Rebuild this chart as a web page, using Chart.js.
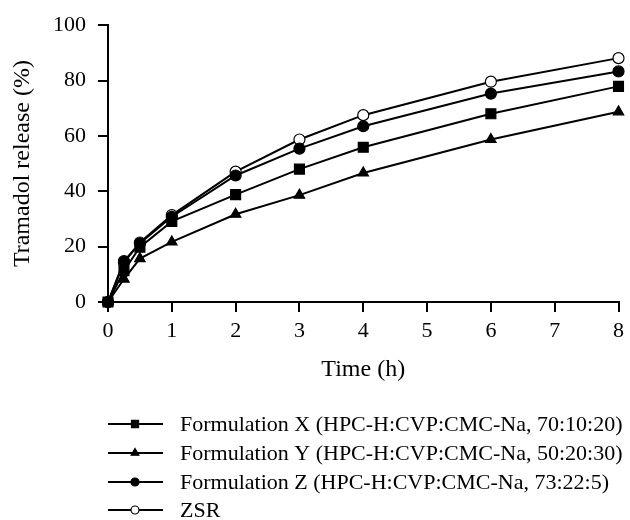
<!DOCTYPE html>
<html>
<head>
<meta charset="utf-8">
<script src="https://cdn.jsdelivr.net/npm/chart.js@4/dist/chart.umd.min.js"></script>
<style>
html,body{margin:0;padding:0;background:#fff;}
#wrap{width:630px;height:520px;position:relative;}
</style>
</head>
<body>
<div id="wrap"><canvas id="c" width="630" height="520"></canvas></div>
<script>
const times = [0, 0.25, 0.5, 1, 2, 3, 4, 6, 8];
const seriesNames = [
  'Formulation X (HPC-H:CVP:CMC-Na, 70:10:20)',
  'Formulation Y (HPC-H:CVP:CMC-Na, 50:20:30)',
  'Formulation Z (HPC-H:CVP:CMC-Na, 73:22:5)',
  'ZSR'
];
const formulationX = [0, 11.3, 19.8, 29.1, 38.8, 48.0, 55.9, 68.0, 77.9];
const formulationY = [0, 8.3, 15.7, 21.7, 31.7, 38.6, 46.6, 58.7, 68.7];
const formulationZ = [0, 14.8, 21.2, 30.8, 45.7, 55.4, 63.5, 75.3, 83.3];
const zsr = [0, 14.2, 21.5, 31.4, 47.1, 58.7, 67.5, 79.6, 88.1];
const xTicks = [0, 1, 2, 3, 4, 5, 6, 7, 8];
const yTicks = [0, 20, 40, 60, 80, 100];

const FONT = "'Liberation Serif', 'Times New Roman', serif";
const styles = [
  {pointStyle: 'rect', radius: 7, bg: '#000', legendRadius: 5},
  {pointStyle: 'triangle', radius: 6, bg: '#000', legendRadius: 4.5},
  {pointStyle: 'circle', radius: 5.5, bg: '#000', legendRadius: 4},
  {pointStyle: 'circle', radius: 5.5, bg: '#fff', legendRadius: 4}
];
const values = [formulationX, formulationY, formulationZ, zsr];

const datasets = values.map((vals, i) => ({
  label: seriesNames[i],
  data: times.map((t, j) => ({x: t, y: vals[j]})),
  borderColor: '#000',
  borderWidth: 2,
  backgroundColor: styles[i].bg,
  pointStyle: styles[i].pointStyle,
  pointRadius: styles[i].radius,
  pointBorderWidth: 1.2,
  pointBorderColor: '#000',
  pointBackgroundColor: styles[i].bg,
  showLine: true,
  tension: 0,
  clip: false
}));

const legendPlugin = {
  id: 'customLegend',
  afterDraw(chart) {
    const ctx = chart.ctx;
    const rowY = [424, 453, 482, 510];
    ctx.save();
    chart.data.datasets.forEach((ds, i) => {
      const y = rowY[i];
      ctx.strokeStyle = '#000';
      ctx.lineWidth = 2;
      ctx.beginPath();
      ctx.moveTo(108, y);
      ctx.lineTo(163, y);
      ctx.stroke();
      ctx.fillStyle = styles[i].bg;
      ctx.strokeStyle = '#000';
      ctx.lineWidth = 1.2;
      Chart.helpers.drawPoint(ctx, {pointStyle: styles[i].pointStyle, radius: styles[i].legendRadius, rotation: 0, borderWidth: 1.2}, 135, y);
      ctx.fillStyle = '#000';
      ctx.font = "22px " + FONT;
      ctx.textBaseline = 'middle';
      ctx.textAlign = 'left';
      ctx.fillText(ds.label, 180, y + 1);
    });
    ctx.restore();
  }
};

new Chart(document.getElementById('c'), {
  type: 'scatter',
  data: {datasets},
  plugins: [legendPlugin],
  options: {
    responsive: false,
    animation: false,
    events: [],
    layout: {padding: {left: 0, top: 21, right: 10, bottom: 128}},
    plugins: {legend: {display: false}, tooltip: {enabled: false}},
    scales: {
      x: {
        type: 'linear',
        min: 0, max: 8,
        afterBuildTicks: (s) => { s.ticks = xTicks.map(v => ({value: v})); },
        afterFit: (s) => { s.height = 90; },
        ticks: {color: '#000', font: {family: FONT, size: 22}, padding: 6},
        grid: {display: true, drawOnChartArea: false, drawTicks: true, tickLength: 10, color: '#000', lineWidth: 2},
        border: {display: true, color: '#000', width: 2},
        title: {display: true, text: 'Time (h)', color: '#000', font: {family: FONT, size: 24}, padding: {top: 4, bottom: 8}}
      },
      y: {
        type: 'linear',
        min: 0, max: 100,
        afterBuildTicks: (s) => { s.ticks = yTicks.map(v => ({value: v})); },
        afterFit: (s) => { s.width = 108; },
        ticks: {color: '#000', font: {family: FONT, size: 22}, padding: 12},
        grid: {display: true, drawOnChartArea: false, drawTicks: true, tickLength: 10, color: '#000', lineWidth: 2},
        border: {display: true, color: '#000', width: 2},
        title: {display: true, text: 'Tramadol release (%)', color: '#000', font: {family: FONT, size: 24}, padding: {top: 8, bottom: 0}}
      }
    }
  }
});
</script>
</body>
</html>
